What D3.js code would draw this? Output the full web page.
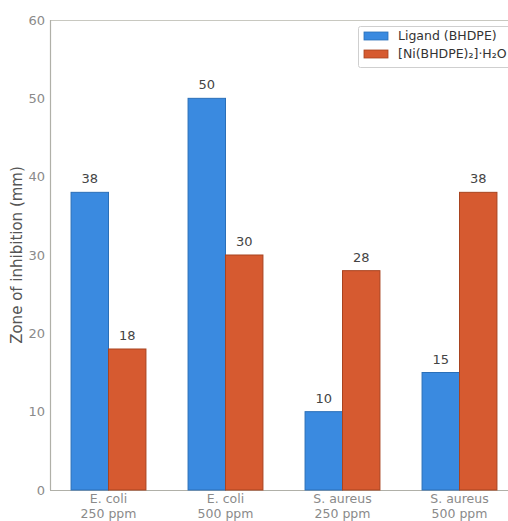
<!DOCTYPE html>
<html><head><meta charset="utf-8">
<script src="https://cdn.jsdelivr.net/npm/d3@7"></script>
<style>body{margin:0;background:#fff;}svg{display:block;font-family:"DejaVu Sans",sans-serif;}</style>
</head><body>
<script>
const categories = [["E. coli","250 ppm"],["E. coli","500 ppm"],["S. aureus","250 ppm"],["S. aureus","500 ppm"]];
const seriesNames = ["Ligand (BHDPE)","[Ni(BHDPE)₂]·H₂O"];
const ligand = [38,50,10,15];
const complex = [18,30,28,38];
const yTicks = [0,10,20,30,40,50,60];
const colors = ["#3a8ae0","#d65a30"];
const strokes = ["#2a6fb8","#a8431f"];

(function(){
const W=508,H=521;
const svg=d3.select("body").append("svg").attr("width",W).attr("height",H);
const mLeft=50, mTop=20, mBottom=490;
const x=d3.scaleLinear().domain([-0.5,3.5]).range([mLeft,mLeft+468]);
const y=d3.scaleLinear().domain([0,60]).range([mBottom,mTop]);
const bw = x(0.32)-x(0);

svg.append("line").attr("x1",mLeft).attr("x2",W).attr("y1",mTop+0.5).attr("y2",mTop+0.5).attr("stroke","#c8c8c0").attr("stroke-width",1);
svg.append("line").attr("x1",mLeft+0.5).attr("x2",mLeft+0.5).attr("y1",mTop).attr("y2",mBottom).attr("stroke","#b0b0a8").attr("stroke-width",1.2);
svg.append("line").attr("x1",mLeft).attr("x2",W).attr("y1",mBottom+0.5).attr("y2",mBottom+0.5).attr("stroke","#b0b0a8").attr("stroke-width",1.2);

svg.append("g").selectAll("text").data(yTicks).join("text")
  .attr("x",mLeft-5).attr("y",d=>y(d)).attr("dy","0.35em").attr("text-anchor","end")
  .attr("font-size",13).attr("fill","#8a8a8a").text(d=>d);

svg.append("text").attr("transform",`translate(22,${(mTop+mBottom)/2}) rotate(-90)`)
  .attr("text-anchor","middle").attr("font-size",15).attr("fill","#555").text("Zone of inhibition (mm)");

const series=[ligand,complex];
series.forEach((vals,s)=>{
  const g=svg.append("g");
  g.selectAll("rect").data(vals).join("rect")
    .attr("x",(d,i)=>x(i)+(s===0?-bw:0)).attr("y",d=>y(d))
    .attr("width",bw).attr("height",d=>y(0)-y(d))
    .attr("fill",colors[s]).attr("stroke",strokes[s]).attr("stroke-width",1);
  g.selectAll("text").data(vals).join("text")
    .attr("x",(d,i)=>x(i)+(s===0?-bw/2:bw/2)).attr("y",d=>y(d)-9)
    .attr("text-anchor","middle").attr("font-size",13).attr("fill","#444").text(d=>d);
});

categories.forEach((c,i)=>{
  svg.append("text").attr("x",x(i)).attr("y",503).attr("text-anchor","middle")
    .attr("font-size",12.5).attr("fill","#8a8a8a").text(c[0]);
  svg.append("text").attr("x",x(i)).attr("y",517.5).attr("text-anchor","middle")
    .attr("font-size",12.5).attr("fill","#8a8a8a").text(c[1]);
});

const lg=svg.append("g");
lg.append("rect").attr("x",358.5).attr("y",26.5).attr("width",160).attr("height",41)
  .attr("fill","#fff").attr("stroke","#cfcfcf").attr("rx",2);
seriesNames.forEach((n,i)=>{
  lg.append("rect").attr("x",364).attr("y",32+i*18).attr("width",24).attr("height",8)
    .attr("fill",colors[i]).attr("stroke",strokes[i]).attr("stroke-width",0.8);
  lg.append("text").attr("x",398).attr("y",36+i*18).attr("dy","0.35em")
    .attr("font-size",12.5).attr("fill","#333").text(n);
});
})();
</script>
</body></html>
